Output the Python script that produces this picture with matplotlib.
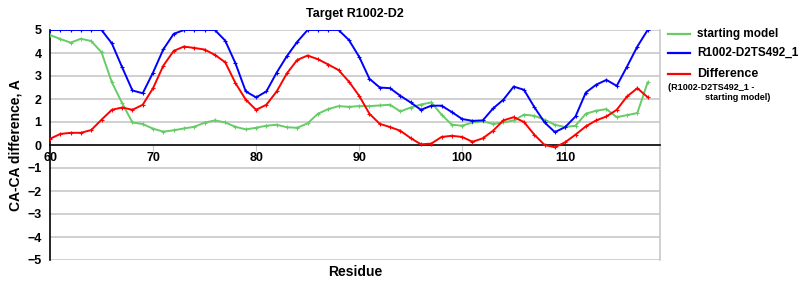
import matplotlib
matplotlib.use("Agg")
import matplotlib.pyplot as plt
from matplotlib.lines import Line2D

residues = list(range(60, 119))

starting_model = [4.78, 4.61, 4.45, 4.62, 4.52, 4.03, 2.73, 1.82, 0.98, 0.91,
                  0.71, 0.58, 0.64, 0.72, 0.79, 0.97, 1.07, 0.98, 0.79, 0.68,
                  0.75, 0.84, 0.88, 0.77, 0.75, 0.94, 1.36, 1.56, 1.69, 1.66,
                  1.69, 1.69, 1.72, 1.75, 1.46, 1.63, 1.76, 1.85, 1.32, 0.88,
                  0.84, 0.98, 1.03, 0.92, 0.98, 1.07, 1.32, 1.27, 1.10, 0.88,
                  0.78, 0.84, 1.36, 1.49, 1.56, 1.21, 1.30, 1.39, 2.72]

model_ts492 = [5.0, 5.0, 5.0, 5.0, 5.0, 5.0, 4.42, 3.38, 2.37, 2.25,
               3.15, 4.16, 4.83, 5.0, 5.0, 5.0, 5.0, 4.54, 3.55, 2.33,
               2.07, 2.33, 3.15, 3.87, 4.49, 5.0, 5.0, 5.0, 5.0, 4.57,
               3.84, 2.88, 2.50, 2.47, 2.14, 1.85, 1.53, 1.71, 1.71, 1.43,
               1.13, 1.05, 1.07, 1.59, 1.97, 2.54, 2.40, 1.65, 0.98, 0.56,
               0.78, 1.24, 2.28, 2.62, 2.83, 2.57, 3.41, 4.28, 5.0]

difference = [0.27, 0.48, 0.53, 0.53, 0.65, 1.10, 1.53, 1.63, 1.53, 1.75,
              2.47, 3.45, 4.09, 4.28, 4.22, 4.15, 3.92, 3.60, 2.69, 1.97,
              1.53, 1.75, 2.33, 3.12, 3.70, 3.89, 3.73, 3.50, 3.26, 2.76,
              2.14, 1.36, 0.92, 0.78, 0.62, 0.30, 0.03, 0.06, 0.35, 0.40,
              0.35, 0.14, 0.29, 0.62, 1.07, 1.21, 1.00, 0.45, 0.00, -0.10,
              0.12, 0.45, 0.81, 1.07, 1.24, 1.53, 2.11, 2.47, 2.08]

x_ticks = [60, 70, 80, 90, 100, 110]
y_ticks = [-5, -4, -3, -2, -1, 0, 1, 2, 3, 4, 5]
y_tick_labels = ["\u22125", "\u22124", "\u22123", "\u22122", "\u22121", "0", "1", "2", "3", "4", "5"]

GREEN = "#66cc66"
BLUE = "#0000ff"
RED = "#ff0000"

plt.rcParams['font.family'] = ['Liberation Sans', 'DejaVu Sans']

fig = plt.figure(figsize=(8, 3), dpi=100)
ax = fig.add_axes([50/800, 40/300, 610/800, 230/300])

for yv in y_ticks:
    if yv != 0:
        ax.axhline(yv, color="#c8c8c8", lw=1.2, zorder=0)

lw = 1.4
ax.plot(residues, starting_model, color=GREEN, lw=lw, marker='+', ms=3, mew=0.8, zorder=3)
ax.plot(residues, model_ts492, color=BLUE, lw=lw, marker='+', ms=3, mew=0.8, zorder=4)
ax.plot(residues, difference, color=RED, lw=lw, marker='+', ms=3, mew=0.8, zorder=5)

ax.set_xlim(60, 119.2)
ax.set_ylim(-5, 5)

ax.spines['left'].set_position(('data', 60))
ax.spines['left'].set_color('black')
ax.spines['left'].set_linewidth(1.2)
ax.spines['bottom'].set_position(('data', 0))
ax.spines['bottom'].set_color('black')
ax.spines['bottom'].set_linewidth(1.2)
ax.spines['top'].set_visible(False)
ax.spines['right'].set_color('#c8c8c8')
ax.spines['right'].set_linewidth(1.2)

ax.set_xticks(x_ticks)
ax.set_xticklabels([str(t) for t in x_ticks], fontsize=9, fontweight='bold')
ax.set_yticks(y_ticks)
ax.set_yticklabels(y_tick_labels, fontsize=9, fontweight='bold')
ax.tick_params(axis='x', direction='out', length=4, color='#c8c8c8', pad=1)
ax.tick_params(axis='y', length=0, pad=6)

ax.set_title("Target R1002-D2", fontsize=9, fontweight='bold', pad=9)
ax.set_xlabel("Residue", fontsize=10, fontweight='bold')
ax.xaxis.set_label_coords(0.5, -0.02)
ax.set_ylabel("CA-CA difference, A", fontsize=10, fontweight='bold')
ax.yaxis.set_label_coords(-0.045, 0.5)

# Legend drawn outside on the right
def leg_item(y, color):
    fig.add_artist(Line2D([668/800, 690/800], [1 - y/300, 1 - y/300], color=color, lw=1.6,
                          transform=fig.transFigure))

leg_item(34, GREEN)
fig.text(697/800, 1 - 34/300, "starting model", fontsize=8.5, fontweight='bold', va='center')
leg_item(53, BLUE)
fig.text(697/800, 1 - 53/300, "R1002-D2TS492_1", fontsize=8.5, fontweight='bold', va='center')
leg_item(74, RED)
fig.text(697/800, 1 - 74/300, "Difference", fontsize=9, fontweight='bold', va='center')
fig.text(668/800, 1 - 87/300, "(R1002-D2TS492_1 -", fontsize=6.5, fontweight='bold', va='center')
fig.text(705/800, 1 - 98/300, "starting model)", fontsize=6.5, fontweight='bold', va='center')

fig.savefig("out.png", dpi=100)
